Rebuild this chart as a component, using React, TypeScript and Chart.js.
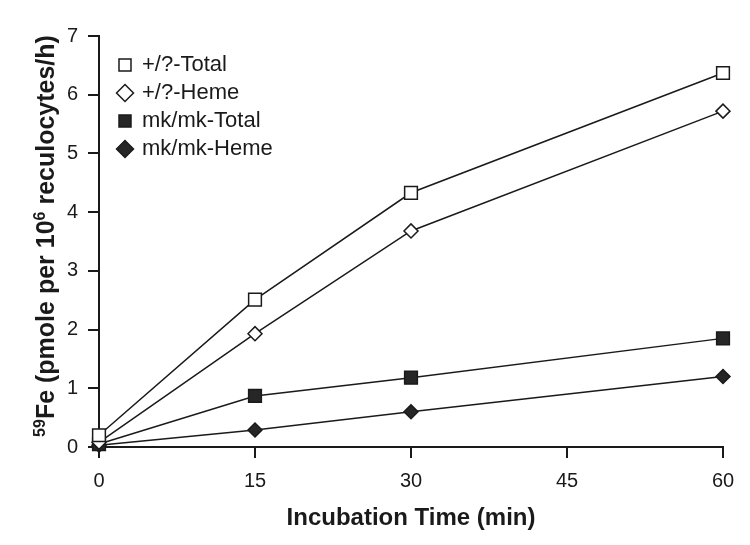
import React, { useEffect, useRef } from "react";
import { Chart, registerables } from "chart.js";

Chart.register(...registerables);

const timesMin = [0, 15, 30, 60];
const xTicks = [0, 15, 30, 45, 60];
const wtTotal = [0.2, 2.51, 4.33, 6.37];
const wtHeme = [0.08, 1.93, 3.68, 5.72];
const mkTotal = [0.05, 0.87, 1.18, 1.85];
const mkHeme = [0.03, 0.29, 0.6, 1.2];
const seriesNames = ["+/?-Total", "+/?-Heme", "mk/mk-Total", "mk/mk-Heme"];
// y-axis title pieces: [text, isSuperscript]
const yTitleParts: [string, boolean][] = [
  ["59", true],
  ["Fe (pmole per 10", false],
  ["6", true],
  [" reculocytes/h)", false],
];
const xTitle = "Incubation Time (min)";

const FONT = "'Liberation Sans', Arial, sans-serif";
const INK = "#1a1a1a";

const legendPlace = {
  id: "legendPlace",
  afterLayout(chart: any) {
    const l = chart.legend;
    if (!l) return;
    const ca = chart.chartArea;
    const w = l.width;
    const h = l.height;
    l.left = ca.left + 14;
    l.right = l.left + w;
    l.top = ca.top + 12;
    l.bottom = l.top + h;
  },
};

const yTitlePlugin = {
  id: "yTitlePlugin",
  afterDraw(chart: any) {
    const ctx = chart.ctx;
    const mainFont = `bold 25px ${FONT}`;
    const supFont = `bold 16px ${FONT}`;
    ctx.save();
    let total = 0;
    const widths = yTitleParts.map(([t, sup]) => {
      ctx.font = sup ? supFont : mainFont;
      const w = ctx.measureText(t).width;
      total += w;
      return w;
    });
    ctx.translate(54, 236);
    ctx.rotate(-Math.PI / 2);
    ctx.fillStyle = INK;
    ctx.textBaseline = "alphabetic";
    ctx.textAlign = "left";
    let x = -total / 2;
    yTitleParts.forEach(([t, sup], i) => {
      ctx.font = sup ? supFont : mainFont;
      ctx.fillText(t, x, sup ? -9 : 0);
      x += widths[i];
    });
    ctx.restore();
  },
};

function toPoints(vals: number[]) {
  return vals.map((v, i) => ({ x: timesMin[i], y: v }));
}

export default function App() {
  const ref = useRef<HTMLCanvasElement | null>(null);
  useEffect(() => {
    if (!ref.current) return;
    const mk = (label: string, vals: number[], style: string, fill: string, r: number) => ({
      label,
      data: toPoints(vals),
      borderColor: INK,
      borderWidth: 1.5,
      pointStyle: style,
      pointRadius: r,
      pointHoverRadius: r,
      pointBackgroundColor: fill,
      pointBorderColor: INK,
      pointBorderWidth: 1.5,
      fill: false,
      tension: 0,
      clip: false as const,
    });
    const chart = new Chart(ref.current, {
      type: "line",
      data: {
        datasets: [
          mk(seriesNames[0], wtTotal, "rect", "#ffffff", 9),
          mk(seriesNames[1], wtHeme, "rectRot", "#ffffff", 7),
          mk(seriesNames[2], mkTotal, "rect", "#262626", 9),
          mk(seriesNames[3], mkHeme, "rectRot", "#262626", 7),
        ] as any,
      },
      options: {
        animation: false,
        responsive: false,
        maintainAspectRatio: false,
        layout: { padding: { top: 36, right: 27, left: 0, bottom: 0 } },
        plugins: {
          tooltip: { enabled: false },
          legend: {
            position: "chartArea" as any,
            align: "start",
            labels: {
              usePointStyle: true,
              boxHeight: 12,
              boxWidth: 12,
              padding: 6,
              color: INK,
              font: { family: FONT, size: 22 },
            },
          },
        },
        scales: {
          x: {
            type: "linear",
            min: 0,
            max: 60,
            afterFit: (s: any) => {
              s.height = 98;
            },
            afterBuildTicks: (s: any) => {
              s.ticks = xTicks.map((v) => ({ value: v }));
            },
            grid: {
              display: true,
              drawOnChartArea: false,
              drawTicks: true,
              tickLength: 11,
              color: INK,
              lineWidth: 2,
            },
            border: { display: true, color: INK, width: 2 },
            ticks: {
              padding: 11,
              color: INK,
              font: { family: FONT, size: 20 },
            },
            title: {
              display: true,
              text: xTitle,
              color: INK,
              font: { family: FONT, size: 24, weight: "bold" },
              padding: { top: 0, bottom: 12 },
            },
          },
          y: {
            type: "linear",
            min: 0,
            max: 7,
            afterFit: (s: any) => {
              s.width = 99;
            },
            grid: {
              display: true,
              drawOnChartArea: false,
              drawTicks: true,
              tickLength: 11,
              color: INK,
              lineWidth: 2,
            },
            border: { display: true, color: INK, width: 2 },
            ticks: {
              stepSize: 1,
              padding: 10,
              color: INK,
              font: { family: FONT, size: 20 },
            },
            title: { display: false },
          },
        },
      },
      plugins: [legendPlace, yTitlePlugin],
    });
    return () => chart.destroy();
  }, []);
  return (
    <div style={{ position: "fixed", left: 0, top: 0, width: 750, height: 545, background: "#fff" }}>
      <canvas ref={ref} width={750} height={545} />
    </div>
  );
}
